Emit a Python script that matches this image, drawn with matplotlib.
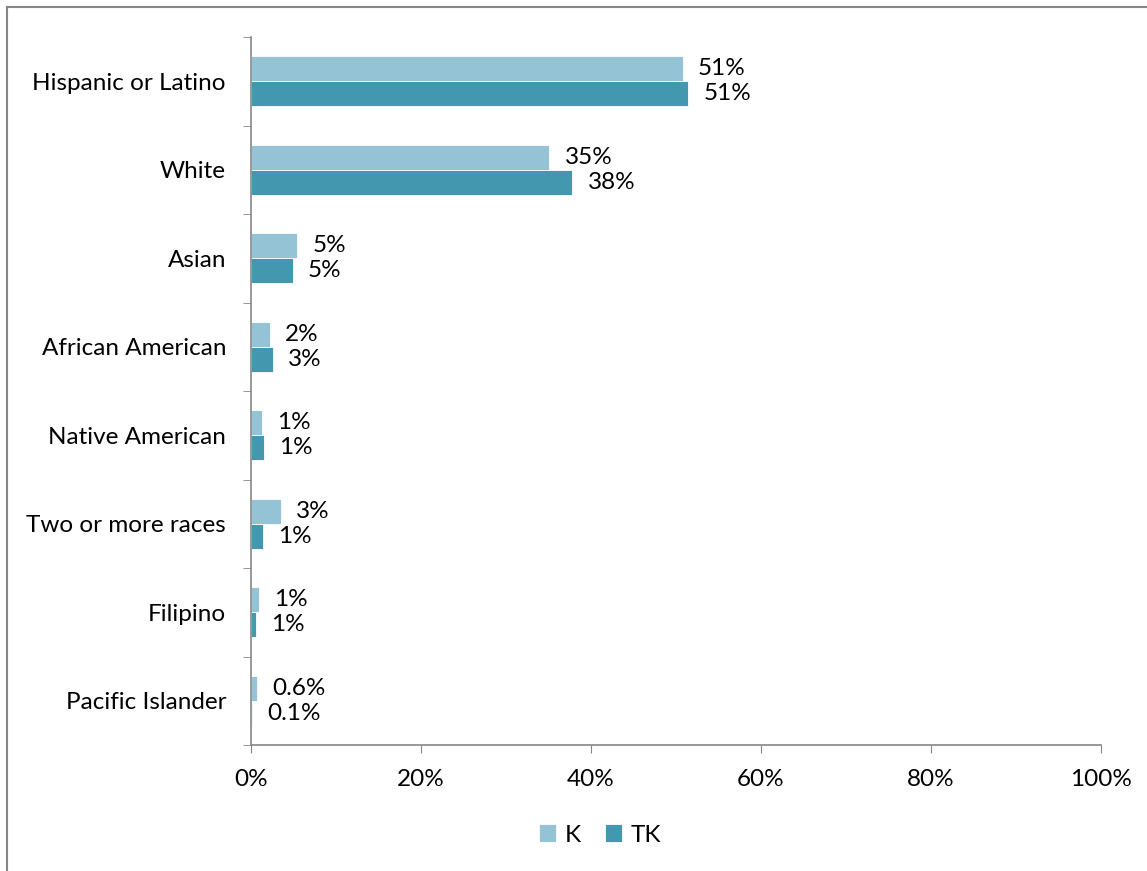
import matplotlib.pyplot as plt
import numpy as np
from matplotlib.lines import Line2D
from matplotlib.ticker import FixedLocator, PercentFormatter

categories = ["Hispanic or Latino", "White", "Asian", "African American",
              "Native American", "Two or more races", "Filipino", "Pacific Islander"]
k_values = [50.8, 35.1, 5.4, 2.2, 1.3, 3.5, 0.9, 0.7]
tk_values = [51.4, 37.8, 4.9, 2.6, 1.5, 1.4, 0.6, 0.1]
k_labels = ["51%", "35%", "5%", "2%", "1%", "3%", "1%", "0.6%"]
tk_labels = ["51%", "38%", "5%", "3%", "1%", "1%", "1%", "0.1%"]

K_COLOR = "#93c3d4"
TK_COLOR = "#4398b0"
GRAY = "#868686"
FS = 17.5

plt.rcParams["font.family"] = ["Lato", "DejaVu Sans"]

fig = plt.figure(figsize=(11.47, 8.71), dpi=100)
ax = fig.add_axes([251 / 1147, 1 - 745 / 871, 850 / 1147, 708 / 871])

y = np.arange(len(categories))
h = 0.285
ax.barh(y - h / 2, k_values, height=h, color=K_COLOR, edgecolor="white", linewidth=0.6, label="K")
ax.barh(y + h / 2, tk_values, height=h, color=TK_COLOR, edgecolor="white", linewidth=0.6, label="TK")

for i in range(len(categories)):
    ax.annotate(k_labels[i], (k_values[i], y[i] - h / 2), xytext=(11, 0),
                textcoords="offset points", va="center", ha="left", fontsize=FS)
    ax.annotate(tk_labels[i], (tk_values[i], y[i] + h / 2), xytext=(11, 0),
                textcoords="offset points", va="center", ha="left", fontsize=FS)

ax.set_xlim(0, 100)
ax.set_ylim(len(categories) - 0.5, -0.5)
ax.set_xticks(np.arange(0, 101, 20))
ax.xaxis.set_major_formatter(PercentFormatter(decimals=0))
ax.set_yticks(y)
ax.set_yticklabels(categories)
ax.yaxis.set_minor_locator(FixedLocator(np.arange(-0.5, len(categories), 1)))

ax.tick_params(axis="y", which="major", length=0, labelsize=FS, pad=18)
ax.tick_params(axis="y", which="minor", length=6, color=GRAY, direction="out")
ax.tick_params(axis="x", length=6, color=GRAY, direction="out", labelsize=FS, pad=11)

for side in ["top", "right"]:
    ax.spines[side].set_visible(False)
for side in ["left", "bottom"]:
    ax.spines[side].set_color(GRAY)
    ax.spines[side].set_linewidth(1.2)

ax.legend(loc="center", bbox_to_anchor=(600 / 1147, 1 - 835 / 871),
          bbox_transform=fig.transFigure, ncol=2, frameon=False,
          fontsize=FS, handlelength=0.7, handleheight=0.7, handletextpad=0.35,
          columnspacing=1.0)

# outer chart border
fig.add_artist(Line2D([7 / 1147, 1], [1 - 7 / 871, 1 - 7 / 871], color=GRAY, lw=1.5))
fig.add_artist(Line2D([7 / 1147, 7 / 1147], [0, 1 - 7 / 871], color=GRAY, lw=1.5))

fig.savefig("out.png", dpi=100)
